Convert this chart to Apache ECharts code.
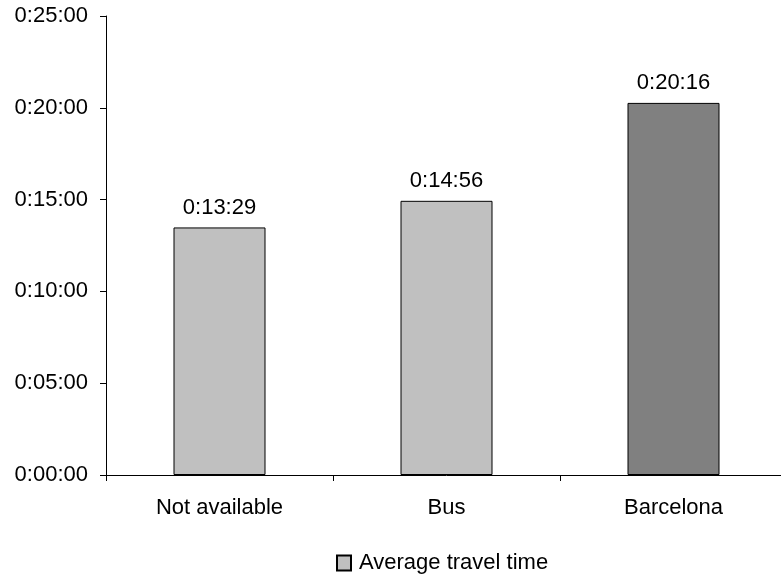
<!DOCTYPE html>
<html><head><meta charset="utf-8">
<script src="https://cdn.jsdelivr.net/npm/echarts@6/dist/echarts.min.js"></script>
<style>html,body{margin:0;padding:0;background:#fff;overflow:hidden;width:781px;height:577px}#c{width:790px;height:577px}</style>
</head><body><div id="c"></div>
<script>
const categories = ["Not available", "Bus", "Barcelona"];
const seriesName = "Average travel time";
const travelSeconds = [809, 896, 1216]; // 0:13:29, 0:14:56, 0:20:16
const barColors = ["#C0C0C0", "#C0C0C0", "#808080"];
const yMin = 0, yMax = 1500, yInterval = 300;

function fmt(s) {
  const h = Math.floor(s / 3600), m = Math.floor((s % 3600) / 60), sec = s % 60;
  return h + ":" + String(m).padStart(2, "0") + ":" + String(sec).padStart(2, "0");
}
const FONT = "Liberation Sans";
const FS = 22;
const chart = echarts.init(document.getElementById("c"));
chart.setOption({
  animation: false,
  textStyle: { fontFamily: FONT },
  grid: { left: 106, top: 16, width: 681, height: 459 },
  xAxis: {
    type: "category", data: categories,
    axisLine: { lineStyle: { color: "#000" } },
    axisTick: { show: true, length: 6, lineStyle: { color: "#000" } },
    axisLabel: { color: "#000", fontSize: FS, fontFamily: FONT, margin: 22 }
  },
  yAxis: {
    type: "value", min: yMin, max: yMax, interval: yInterval,
    axisLine: { show: true, lineStyle: { color: "#000" } },
    axisTick: { show: true, length: 6, lineStyle: { color: "#000" } },
    splitLine: { show: false },
    axisLabel: { color: "#000", fontSize: FS, fontFamily: FONT, margin: 18, formatter: v => fmt(v) }
  },
  legend: {
    top: 552, left: 336, itemWidth: 14, itemHeight: 15, padding: 0,
    textStyle: { color: "#000", fontSize: FS, fontFamily: FONT, padding: [0, 0, 0, 3] },
    data: [{ name: seriesName, icon: "rect" }]
  },
  series: [{
    name: seriesName, type: "bar", barWidth: 92,
    itemStyle: { color: "#C0C0C0", borderColor: "#000", borderWidth: 1 },
    label: { show: true, position: "top", distance: 9, color: "#000", fontSize: FS, fontFamily: FONT, formatter: p => fmt(p.value) },
    data: travelSeconds.map((v, i) => ({ value: v, itemStyle: { color: barColors[i] } }))
  }]
});
</script></body></html>
